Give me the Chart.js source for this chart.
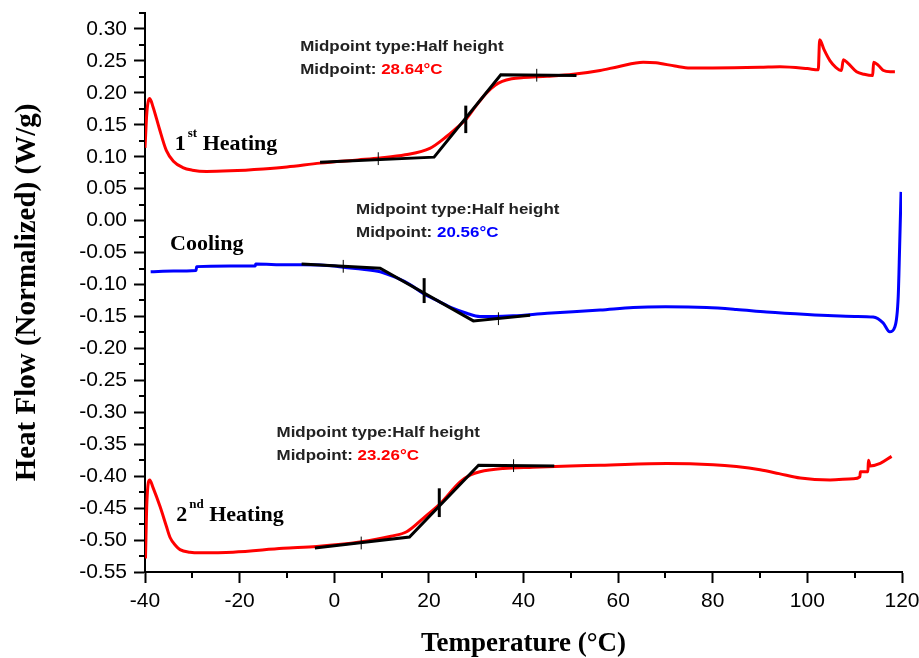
<!DOCTYPE html>
<html>
<head>
<meta charset="utf-8">
<title>DSC heat flow</title>
<script src="https://cdn.jsdelivr.net/npm/chart.js@4.4.1/dist/chart.umd.min.js"></script>
<style>
  html, body { margin: 0; padding: 0; background: #fff; }
  #wrap { width: 919px; height: 658px; }
</style>
</head>
<body>
<div id="wrap"><canvas id="dsc-chart" width="919" height="658"></canvas></div>
<script>
// values (temperature in °C, heat flow in W/g)
const heat1Temp = [-40, -39.6, -39.0, -38.3, -37.0, -35.5, -34.0, -32.0, -30.0, -27.0, -22.0, -15.0, -10.0, -3.0, 5.0, 9.7, 15.0, 20.2, 23.8, 26.0, 28.0, 30.0, 32.2, 34.0, 35.5, 37.5, 40, 45, 50.5, 56.2, 60, 65.3, 68, 72, 75.2, 80, 90, 94.2, 100, 102.3, 102.6, 103.5, 104.8, 106.0, 107.2, 107.6, 108.5, 110.4, 112.0, 113.8, 114.0, 115.0, 116.1, 117.5, 118.5];
const heat1Flow = [0.114, 0.170, 0.191, 0.178, 0.145, 0.110, 0.093, 0.083, 0.079, 0.077, 0.078, 0.081, 0.084, 0.090, 0.095, 0.098, 0.103, 0.113, 0.132, 0.146, 0.160, 0.180, 0.200, 0.212, 0.218, 0.222, 0.224, 0.226, 0.229, 0.235, 0.241, 0.248, 0.247, 0.242, 0.239, 0.239, 0.240, 0.241, 0.238, 0.236, 0.283, 0.268, 0.250, 0.240, 0.235, 0.252, 0.247, 0.233, 0.229, 0.227, 0.248, 0.243, 0.235, 0.233, 0.233];

const coolTemp = [-38.8, -34, -29.2, -29.1, -22, -16.7, -16.6, -10, -6.6, 0, 1.9, 6, 9.7, 13, 16, 18.8, 22, 25, 28, 30.8, 34, 37.8, 45, 56.2, 63.2, 70, 78.7, 85, 91.4, 100, 105.5, 110, 113.9, 116, 117.4, 118.5, 119.2, 119.5, 119.8];
const coolFlow = [-0.080, -0.079, -0.078, -0.072, -0.071, -0.071, -0.068, -0.069, -0.069, -0.071, -0.073, -0.076, -0.080, -0.089, -0.100, -0.114, -0.126, -0.137, -0.145, -0.150, -0.150, -0.149, -0.145, -0.140, -0.136, -0.135, -0.136, -0.139, -0.143, -0.147, -0.149, -0.150, -0.151, -0.160, -0.174, -0.166, -0.119, -0.041, 0.045];

const heat2Temp = [-39.9, -39.6, -39.0, -38.3, -36.8, -35.5, -34.7, -33.5, -32.6, -30.5, -28.4, -21.4, -10.8, -3.7, 5.4, 12, 15.3, 18.8, 22.4, 26.6, 28.8, 30.8, 35.7, 42, 49.8, 56.2, 70.3, 80.1, 85, 90, 94, 98.5, 104.8, 109.7, 111.1, 111.2, 112.8, 112.9, 113.3, 115.4, 117.8];
const heat2Flow = [-0.529, -0.440, -0.406, -0.418, -0.448, -0.478, -0.496, -0.509, -0.515, -0.519, -0.520, -0.519, -0.513, -0.510, -0.503, -0.494, -0.487, -0.466, -0.443, -0.409, -0.398, -0.393, -0.388, -0.386, -0.384, -0.383, -0.380, -0.382, -0.385, -0.390, -0.396, -0.403, -0.406, -0.404, -0.401, -0.393, -0.393, -0.375, -0.384, -0.380, -0.369];

// half-height construction lines (onset baseline, slope, end baseline)
const heat1TangentTemp = [-3, 21.1, 35.2, 51.2];
const heat1TangentFlow = [0.0915, 0.0994, 0.2284, 0.227];
const coolTangentTemp = [-6.9, 9.7, 29.4, 41.4];
const coolTangentFlow = [-0.068, -0.0746, -0.157, -0.148];
const heat2TangentTemp = [-4.1, 15.9, 30.5, 46.5];
const heat2TangentFlow = [-0.5126, -0.4953, -0.383, -0.384];

// midpoint bars: temperature, low and high flow
const midBarTemp = [27.8, 19.0, 22.2];
const midBarLow = [0.137, -0.129, -0.464];
const midBarHigh = [0.180, -0.090, -0.419];

// small baseline markers: temperature, low and high flow
const markTemp = [9.3, 42.8, 1.9, 34.7, 5.7, 37.9];
const markLow = [0.087, 0.2176, -0.0815, -0.1635, -0.5146, -0.3935];
const markHigh = [0.107, 0.2376, -0.0615, -0.1435, -0.4946, -0.3735];

const xTickValues = [-40, -20, 0, 20, 40, 60, 80, 100, 120];
const yTickValues = [0.30, 0.25, 0.20, 0.15, 0.10, 0.05, 0.00, -0.05, -0.10, -0.15, -0.20, -0.25, -0.30, -0.35, -0.40, -0.45, -0.50, -0.55];

const RED = '#ff0000';
const BLUE = '#0000ff';

// text boxes placed in data coordinates
const midpointNotes = [
  { x: -7.2, y: 0.2727, value: '28.64°C', color: RED },
  { x: 4.6, y: 0.0168, value: '20.56°C', color: BLUE },
  { x: -12.2, y: -0.3317, value: '23.26°C', color: RED }
];
const curveLabels = [
  { x: -33.7, y: 0.110, lead: '1', sup: 'st', rest: ' Heating' },
  { x: -34.7, y: -0.046, lead: 'Cooling', sup: '', rest: '' },
  { x: -33.4, y: -0.470, lead: '2', sup: 'nd', rest: ' Heating' }
];

const xMinor = [-30, -10, 10, 30, 50, 70, 90, 110];
const yMinor = yTickValues.map(v => v + 0.025).filter(v => v < 0.33);

function toPoints(xs, ys) {
  return xs.map((v, i) => ({ x: v, y: ys[i] }));
}

function curve(xs, ys, color) {
  return {
    data: toPoints(xs, ys),
    borderColor: color,
    borderWidth: 3,
    pointRadius: 0,
    cubicInterpolationMode: 'monotone',
    order: 2
  };
}

function blackLine(points, width) {
  return {
    data: points,
    borderColor: '#000',
    borderWidth: width,
    pointRadius: 0,
    tension: 0,
    order: 0
  };
}

const datasets = [
  curve(heat1Temp, heat1Flow, RED),
  curve(coolTemp, coolFlow, BLUE),
  curve(heat2Temp, heat2Flow, RED),
  blackLine(toPoints(heat1TangentTemp, heat1TangentFlow), 3),
  blackLine(toPoints(coolTangentTemp, coolTangentFlow), 3),
  blackLine(toPoints(heat2TangentTemp, heat2TangentFlow), 3)
];
midBarTemp.forEach((t, i) => {
  datasets.push(blackLine([{ x: t, y: midBarLow[i] }, { x: t, y: midBarHigh[i] }], 3));
});
markTemp.forEach((t, i) => {
  datasets.push(blackLine([{ x: t, y: markLow[i] }, { x: t, y: markHigh[i] }], 1));
});

function wideText(ctx, str, px, py, sx) {
  ctx.save();
  ctx.translate(px, py);
  ctx.scale(sx, 1);
  ctx.fillText(str, 0, 0);
  ctx.restore();
  return ctx.measureText(str).width * sx;
}

const decorations = {
  id: 'decorations',
  afterDraw(chart) {
    const { ctx, scales: { x, y } } = chart;
    ctx.save();

    // minor tick marks
    ctx.strokeStyle = '#000';
    ctx.lineWidth = 2;
    ctx.beginPath();
    xMinor.forEach(v => {
      const px = Math.round(x.getPixelForValue(v));
      ctx.moveTo(px, y.bottom);
      ctx.lineTo(px, y.bottom + 6);
    });
    yMinor.forEach(v => {
      const py = Math.round(y.getPixelForValue(v));
      ctx.moveTo(x.left, py);
      ctx.lineTo(x.left - 6, py);
    });
    ctx.stroke();

    // midpoint notes
    ctx.font = 'bold 15px "Liberation Sans", Arial, sans-serif';
    ctx.textBaseline = 'middle';
    ctx.textAlign = 'left';
    midpointNotes.forEach(n => {
      const px = x.getPixelForValue(n.x);
      const py = y.getPixelForValue(n.y);
      ctx.fillStyle = '#222';
      wideText(ctx, 'Midpoint type:Half height', px, py, 1.13);
      const w = wideText(ctx, 'Midpoint: ', px, py + 23, 1.13);
      ctx.fillStyle = n.color;
      wideText(ctx, n.value, px + w, py + 23, 1.13);
    });

    // curve names
    ctx.fillStyle = '#000';
    ctx.textBaseline = 'alphabetic';
    curveLabels.forEach(l => {
      let px = x.getPixelForValue(l.x);
      const py = y.getPixelForValue(l.y);
      ctx.font = 'bold 22px "Liberation Serif", "Times New Roman", serif';
      ctx.fillText(l.lead, px, py);
      px += ctx.measureText(l.lead).width + 2;
      if (l.sup) {
        ctx.font = 'bold 13px "Liberation Serif", "Times New Roman", serif';
        ctx.fillText(l.sup, px, py - 13);
        px += ctx.measureText(l.sup).width;
        ctx.font = 'bold 22px "Liberation Serif", "Times New Roman", serif';
        ctx.fillText(l.rest, px, py);
      }
    });
    ctx.restore();
  }
};

new Chart(document.getElementById('dsc-chart'), {
  type: 'line',
  data: { datasets },
  options: {
    responsive: false,
    animation: false,
    devicePixelRatio: 1,
    layout: { padding: { top: 13, right: 17, left: 0, bottom: 0 } },
    plugins: { legend: { display: false }, tooltip: { enabled: false } },
    scales: {
      x: {
        type: 'linear',
        min: -40,
        max: 120,
        afterBuildTicks: s => { s.ticks = xTickValues.map(v => ({ value: v })); },
        afterFit: s => { s.height = 86; s.paddingLeft = 0; s.paddingRight = 0; },
        border: { display: true, color: '#000', width: 2 },
        grid: { drawOnChartArea: false, color: '#000', tickLength: 11, tickWidth: 2 },
        ticks: {
          color: '#000',
          padding: 6,
          maxRotation: 0,
          font: { family: '"Liberation Sans", Arial, sans-serif', size: 21 },
          callback: v => String(v)
        },
        title: {
          display: true,
          text: 'Temperature (°C)',
          color: '#000',
          padding: { top: 0, bottom: 0 },
          font: { family: '"Liberation Serif", "Times New Roman", serif', size: 27, weight: 'bold', lineHeight: 1 }
        }
      },
      y: {
        type: 'linear',
        min: -0.55,
        max: 0.325,
        afterBuildTicks: s => { s.ticks = yTickValues.map(v => ({ value: v })); },
        afterFit: s => { s.width = 145; s.paddingTop = 0; s.paddingBottom = 0; },
        border: { display: true, color: '#000', width: 2 },
        grid: { drawOnChartArea: false, color: '#000', tickLength: 11, tickWidth: 2 },
        ticks: {
          color: '#000',
          padding: 7,
          font: { family: '"Liberation Sans", Arial, sans-serif', size: 21 },
          callback: v => Number(v).toFixed(2)
        },
        title: {
          display: true,
          text: 'Heat Flow (Normalized) (W/g)',
          color: '#000',
          padding: { top: 10, bottom: 0 },
          font: { family: '"Liberation Serif", "Times New Roman", serif', size: 29, weight: 'bold' }
        }
      }
    }
  },
  plugins: [decorations]
});
</script>
</body>
</html>
